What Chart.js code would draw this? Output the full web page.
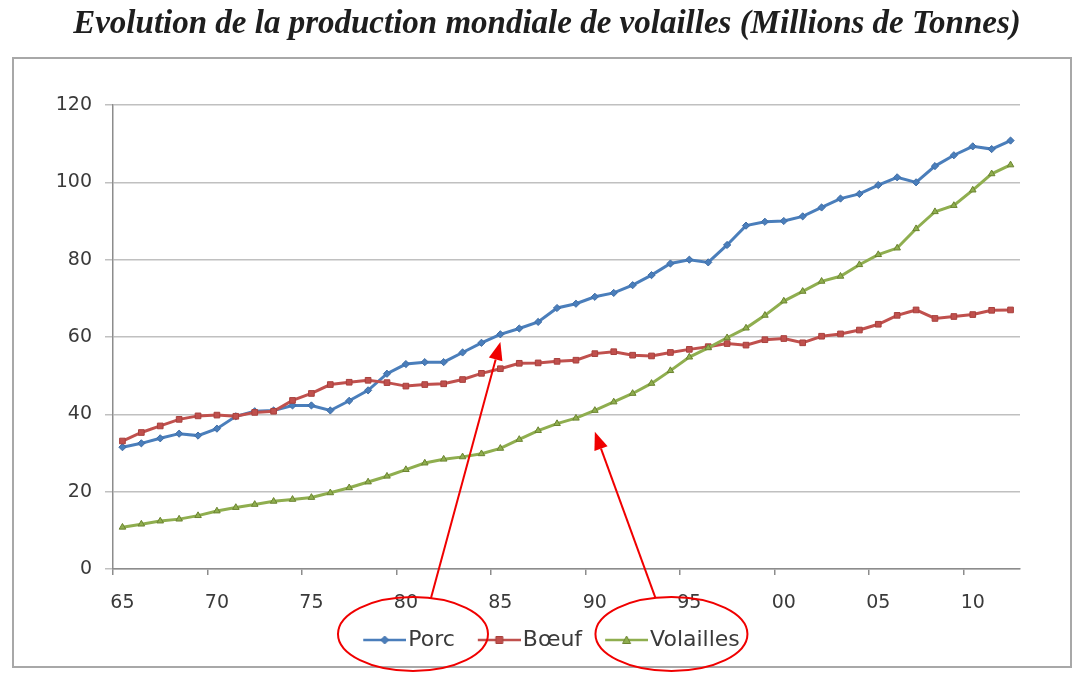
<!DOCTYPE html>
<html>
<head>
<meta charset="utf-8">
<script src="https://cdn.jsdelivr.net/npm/chart.js@4.4.1/dist/chart.umd.min.js"></script>
<style>
  html, body { margin: 0; padding: 0; background: #ffffff; }
  #wrap { width: 1079px; height: 673px; }
</style>
</head>
<body>
<div id="wrap"><canvas id="c" width="1079" height="673"></canvas></div>
<script>
// ---------- DATA ----------
const years = [
  1965,1966,1967,1968,1969,1970,1971,1972,1973,1974,
  1975,1976,1977,1978,1979,1980,1981,1982,1983,1984,
  1985,1986,1987,1988,1989,1990,1991,1992,1993,1994,
  1995,1996,1997,1998,1999,2000,2001,2002,2003,2004,
  2005,2006,2007,2008,2009,2010,2011,2012
];
const xTickLabels = ['65','70','75','80','85','90','95','00','05','10'];
const yTicks = [0, 20, 40, 60, 80, 100, 120];

const porc = [
  31.5,32.5,33.8,35.0,34.5,36.3,39.5,40.8,41.0,42.3,
  42.3,41.0,43.5,46.2,50.5,53.0,53.5,53.5,56.0,58.5,
  60.7,62.2,63.9,67.5,68.6,70.4,71.4,73.4,76.0,79.0,
  80.0,79.3,83.8,88.8,89.8,90.0,91.2,93.5,95.8,97.0,
  99.3,101.3,100.0,104.2,107.0,109.3,108.6,110.8
];
const boeuf = [
  33.1,35.3,37.0,38.7,39.6,39.8,39.5,40.5,40.8,43.6,
  45.4,47.7,48.3,48.8,48.2,47.3,47.7,47.9,49.0,50.6,
  51.8,53.2,53.3,53.7,54.0,55.7,56.2,55.3,55.1,56.0,
  56.8,57.5,58.3,57.9,59.3,59.6,58.5,60.2,60.8,61.8,
  63.3,65.6,67.0,64.8,65.3,65.8,66.9,67.0
];
const volailles = [
  10.8,11.6,12.4,12.9,13.8,15.0,15.9,16.7,17.5,18.0,
  18.5,19.7,21.0,22.5,24.0,25.7,27.4,28.4,29.0,29.8,
  31.2,33.5,35.8,37.6,39.0,41.0,43.2,45.4,48.0,51.3,
  54.8,57.2,59.8,62.3,65.6,69.3,71.8,74.4,75.7,78.7,
  81.3,83.0,88.0,92.4,94.0,98.0,102.2,104.5
];
const seriesNames = ['Porc', 'Bœuf', 'Volailles'];
const titleText = 'Evolution de la production mondiale de volailles (Millions de Tonnes)';

// ---------- STYLE ----------
const colLine = ['#4A7EBB', '#C0504D', '#8FAE4F'];
const colPtBorder = ['#3F6DA6', '#A8403D', '#6B8430'];
const ptStyles = ['rectRot', 'rect', 'triangle'];
const ptRadius = [3.6, 4, 3.8];
const axisGray = '#8C8C8C';
const gridGray = '#C0C0C0';
const textGray = '#3A3A3A';

// title font size fitted to target width
const measure = document.createElement('canvas').getContext('2d');
measure.font = 'italic bold 100px "Liberation Serif"';
const titleSize = Math.round(957 / measure.measureText(titleText).width * 100);

// legend geometry
const legendFont = 22;
const legendPad = 14;
const legendBox = 43;
const iconW = legendBox + 18;

// legend icons (line + marker), line occupies right 43px of the icon canvas
function makeIcon(i) {
  const cv = document.createElement('canvas');
  cv.width = iconW; cv.height = 12;
  const g = cv.getContext('2d');
  const x0 = iconW - 43, x1 = iconW, xm = (x0 + x1) / 2;
  g.strokeStyle = colLine[i]; g.lineWidth = 2.5;
  g.beginPath(); g.moveTo(x0, 6); g.lineTo(x1, 6); g.stroke();
  g.fillStyle = colLine[i]; g.strokeStyle = colPtBorder[i]; g.lineWidth = 1;
  g.beginPath();
  if (i === 0) { g.moveTo(xm, 2); g.lineTo(xm + 4, 6); g.lineTo(xm, 10); g.lineTo(xm - 4, 6); g.closePath(); }
  else if (i === 1) { g.rect(xm - 3.5, 2.5, 7, 7); }
  else { g.moveTo(xm, 2); g.lineTo(xm + 4, 9.5); g.lineTo(xm - 4, 9.5); g.closePath(); }
  g.fill(); g.stroke();
  return cv;
}
const legendIcons = [0, 1, 2].map(makeIcon);

const frameAndNotes = {
  id: 'frameAndNotes',
  beforeDraw(chart) {
    const ctx = chart.ctx;
    ctx.save();
    ctx.fillStyle = '#ffffff';
    ctx.fillRect(0, 0, chart.width, chart.height);
    ctx.strokeStyle = '#A8A8A8';
    ctx.lineWidth = 2;
    ctx.strokeRect(13, 58, 1058, 609);
    ctx.restore();
  },
  afterDraw(chart) {
    const ctx = chart.ctx;
    const xs = chart.scales.x, ys = chart.scales.y;
    const hb = chart.legend.legendHitBoxes;
    if (!hb || hb.length < 3) return;
    const e1 = { cx: hb[0].left + hb[0].width / 2 + 8.5, cy: hb[0].top + hb[0].height / 2 - 6, rx: 75, ry: 37 };
    const e2 = { cx: hb[2].left + hb[2].width / 2 + 3.5, cy: hb[2].top + hb[2].height / 2 - 6, rx: 76, ry: 37 };
    ctx.save();
    ctx.strokeStyle = '#F00000';
    ctx.fillStyle = '#F00000';
    ctx.lineWidth = 2;
    [e1, e2].forEach(e => {
      ctx.beginPath();
      ctx.ellipse(e.cx, e.cy, e.rx, e.ry, 0, 0, Math.PI * 2);
      ctx.stroke();
    });
    function onTop(e, dx) {
      return { x: e.cx + dx, y: e.cy - e.ry * Math.sqrt(1 - (dx / e.rx) * (dx / e.rx)) };
    }
    function arrow(from, to) {
      const ang = Math.atan2(to.y - from.y, to.x - from.x);
      const L = 18, W = 7;
      const bx = to.x - L * Math.cos(ang), by = to.y - L * Math.sin(ang);
      ctx.beginPath();
      ctx.moveTo(from.x, from.y);
      ctx.lineTo(bx, by);
      ctx.stroke();
      ctx.beginPath();
      ctx.moveTo(to.x, to.y);
      ctx.lineTo(bx + W * Math.sin(ang), by - W * Math.cos(ang));
      ctx.lineTo(bx - W * Math.sin(ang), by + W * Math.cos(ang));
      ctx.closePath();
      ctx.fill();
    }
    arrow(onTop(e1, 18), { x: xs.getPixelForValue(years.indexOf(1985)), y: ys.getPixelForValue(58.7) });
    arrow(onTop(e2, -16), { x: xs.getPixelForValue(years.indexOf(1990)), y: ys.getPixelForValue(35.5) });
    ctx.restore();
  }
};

const seriesData = [porc, boeuf, volailles];
const datasets = seriesData.map((d, i) => ({
  label: seriesNames[i],
  data: d,
  borderColor: colLine[i],
  backgroundColor: colLine[i],
  pointBackgroundColor: colLine[i],
  pointBorderColor: colPtBorder[i],
  pointBorderWidth: 1,
  pointStyle: ptStyles[i],
  pointRadius: ptRadius[i],
  borderWidth: 3,
  tension: 0,
  fill: false,
  order: 3 - i
}));

new Chart(document.getElementById('c'), {
  type: 'line',
  data: { labels: years, datasets },
  plugins: [frameAndNotes],
  options: {
    responsive: false,
    animation: false,
    devicePixelRatio: 1,
    layout: { padding: { left: 15, right: 0, top: 0, bottom: 12 } },
    plugins: {
      tooltip: { enabled: false },
      title: {
        display: true,
        text: titleText,
        color: '#1E1E1E',
        font: { family: '"Liberation Serif"', size: titleSize, style: 'italic', weight: 'bold', lineHeight: 1.2 },
        padding: { top: 24 - titleSize * 0.6, bottom: 105 - (24 + titleSize * 0.6) }
      },
      legend: {
        position: 'bottom',
        labels: {
          usePointStyle: true,
          pointStyleWidth: legendBox,
          padding: legendPad,
          color: textGray,
          font: { family: '"DejaVu Sans"', size: legendFont },
          generateLabels: chart => chart.data.datasets.map((ds, i) => ({
            text: ds.label,
            pointStyle: legendIcons[i],
            fillStyle: 'rgba(0,0,0,0)',
            strokeStyle: 'rgba(0,0,0,0)',
            lineWidth: 0,
            hidden: false,
            datasetIndex: i,
            fontColor: textGray
          }))
        }
      }
    },
    scales: {
      x: {
        type: 'category',
        offset: true,
        afterFit: s => { s.height = 46; },
        border: { display: true, color: axisGray, width: 1.5 },
        grid: {
          offset: true,
          drawOnChartArea: false,
          drawTicks: true,
          tickLength: 6,
          lineWidth: 1.5,
          color: c => (c.index % 5 === 0 ? axisGray : 'rgba(0,0,0,0)')
        },
        ticks: {
          autoSkip: false,
          maxRotation: 0,
          padding: 17,
          color: textGray,
          font: { family: '"DejaVu Sans"', size: 19 },
          callback: (v, i) => (i % 5 === 0 ? xTickLabels[i / 5] : '')
        }
      },
      y: {
        min: yTicks[0],
        max: yTicks[yTicks.length - 1],
        afterFit: s => { s.width = 98; },
        afterBuildTicks: s => { s.ticks = yTicks.map(v => ({ value: v })); },
        border: { display: true, color: axisGray, width: 1.5 },
        grid: { color: gridGray, lineWidth: 1.5, tickLength: 8, drawTicks: true },
        ticks: {
          padding: 13,
          color: textGray,
          font: { family: '"DejaVu Sans"', size: 19 }
        }
      },
      // empty right-hand margin (keeps plot right edge where the reference has it)
      yRight: {
        position: 'right',
        display: true,
        min: 0,
        max: 120,
        afterFit: s => { s.width = 59; },
        grid: { display: false },
        border: { display: false },
        ticks: { display: false }
      }
    }
  }
});
</script>
</body>
</html>
